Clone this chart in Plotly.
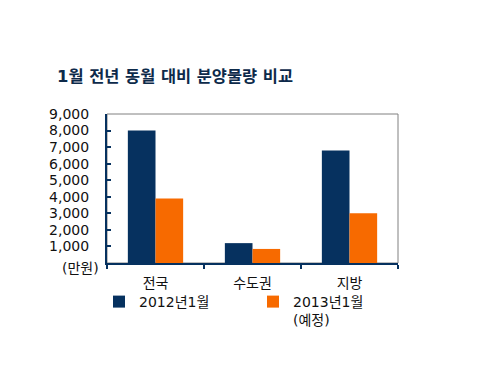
import plotly.graph_objects as go

categories = ["전국", "수도권", "지방"]
series_2012 = [8000, 1200, 6800]
series_2013 = [3900, 850, 3000]
series_names = ["2012년1월", "2013년1월<br>(예정)"]
y_tickvals = [1000, 2000, 3000, 4000, 5000, 6000, 7000, 8000, 9000]
y_ticktext = ["1,000", "2,000", "3,000", "4,000", "5,000", "6,000", "7,000", "8,000", "9,000"]
y_unit = "(만원)"
title_text = "1월 전년 동월 대비 분양물량 비교"

NAVY = "#06315f"
ORANGE = "#f76a00"
FONT = "DejaVu Sans, Noto Sans CJK KR"

OFF = 8  # default body margin of the html page
W, H = 487 - 2 * OFF, 383 - 2 * OFF
# plot area in target picture pixels, converted to figure pixels
L, R, T, B = 107 - OFF, 398 - OFF, 114 - OFF, 263 - OFF
PW, PH = R - L, B - T

def px_x(x):
    return (x - OFF - L) / PW

def px_y(y):
    return (B - (y - OFF)) / PH

fig = go.Figure()
fig.add_trace(go.Bar(x=categories, y=series_2012, name=series_names[0], marker_color=NAVY,
                     marker_line_width=0, legend="legend"))
fig.add_trace(go.Bar(x=categories, y=series_2013, name=series_names[1], marker_color=ORANGE,
                     marker_line_width=0, legend="legend2"))

legend_common = dict(orientation="v", xanchor="left", yanchor="top", itemwidth=30,
                     font=dict(family=FONT, size=14, color="#111111"), bgcolor="rgba(0,0,0,0)",
                     borderwidth=0, valign="top")

fig.update_layout(
    width=W, height=H,
    margin=dict(l=L, r=W - R, t=T, b=H - B, autoexpand=False),
    paper_bgcolor="white", plot_bgcolor="white",
    barmode="group", bargap=0.43, bargroupgap=0,
    font=dict(family=FONT, size=14, color="#111111"),
    title=dict(text="<b>" + title_text + "</b>", x=(57 - OFF) / W, xanchor="left",
               y=1 - (76 - OFF) / H, yanchor="middle",
               font=dict(family=FONT, size=16.4, color="#0d2a4a")),
    showlegend=True,
    legend=dict(x=px_x(99), y=px_y(286), **legend_common),
    legend2=dict(x=px_x(253), y=px_y(286), **legend_common),
    shapes=[dict(type="rect", xref="paper", yref="paper", x0=0, x1=1, y0=0, y1=1,
                 line=dict(color="#808080", width=1), layer="below")],
    annotations=[dict(text=y_unit, xref="paper", yref="y", x=px_x(101), y=0, xanchor="right",
                      yanchor="middle", yshift=-5, showarrow=False,
                      font=dict(family=FONT, size=14, color="#111111"))],
)
fig.update_yaxes(range=[0, 9000], tickvals=y_tickvals, ticktext=y_ticktext, ticks="inside", ticklen=4,
                 tickcolor=NAVY, tickwidth=2, showline=True, linecolor=NAVY, linewidth=2, showgrid=False,
                 zeroline=False, tickfont=dict(size=14, color="#111111"), ticklabelstandoff=13)
fig.update_xaxes(tickson="boundaries", ticks="outside", ticklen=4, tickcolor=NAVY, tickwidth=2,
                 showline=True, linecolor=NAVY, linewidth=2, showgrid=False, ticklabelstandoff=6,
                 tickfont=dict(size=14, color="#111111"))

fig.write_html("out.html")
